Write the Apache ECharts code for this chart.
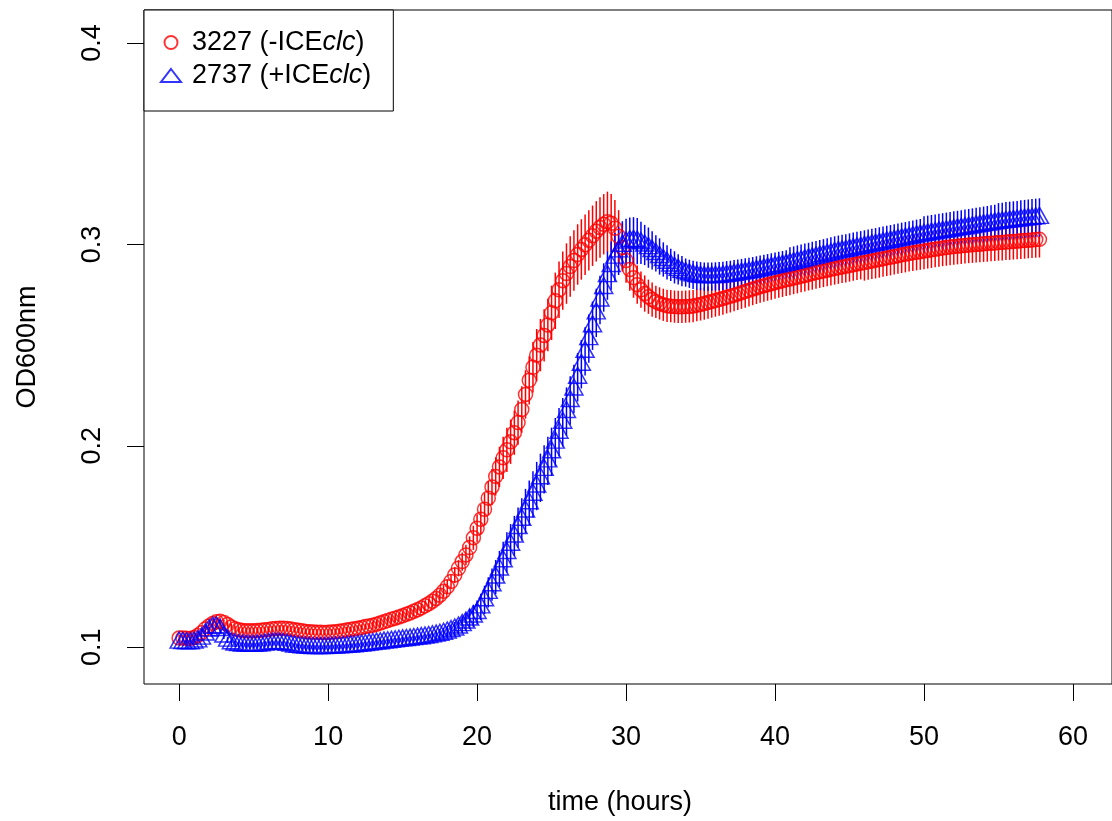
<!DOCTYPE html>
<html>
<head>
<meta charset="utf-8">
<script src="https://cdn.jsdelivr.net/npm/echarts@6/dist/echarts.min.js"></script>
<style>html,body{margin:0;padding:0;background:#fff;}#chart{width:1112px;height:821px;}</style>
</head>
<body>
<div id="chart"></div>
<script>
// time in hours (one reading every 15 minutes)
const timeHours = [
0,0.25,0.5,0.75, 1,1.25,1.5,1.75, 2,2.25,2.5,2.75, 3,3.25,3.5,3.75, 4,4.25,4.5,4.75,
5,5.25,5.5,5.75, 6,6.25,6.5,6.75, 7,7.25,7.5,7.75, 8,8.25,8.5,8.75, 9,9.25,9.5,9.75,
10,10.25,10.5,10.75, 11,11.25,11.5,11.75, 12,12.25,12.5,12.75, 13,13.25,13.5,13.75, 14,14.25,14.5,14.75,
15,15.25,15.5,15.75, 16,16.25,16.5,16.75, 17,17.25,17.5,17.75, 18,18.25,18.5,18.75, 19,19.25,19.5,19.75,
20,20.25,20.5,20.75, 21,21.25,21.5,21.75, 22,22.25,22.5,22.75, 23,23.25,23.5,23.75, 24,24.25,24.5,24.75,
25,25.25,25.5,25.75, 26,26.25,26.5,26.75, 27,27.25,27.5,27.75, 28,28.25,28.5,28.75, 29,29.25,29.5,29.75,
30,30.25,30.5,30.75, 31,31.25,31.5,31.75, 32,32.25,32.5,32.75, 33,33.25,33.5,33.75, 34,34.25,34.5,34.75,
35,35.25,35.5,35.75, 36,36.25,36.5,36.75, 37,37.25,37.5,37.75, 38,38.25,38.5,38.75, 39,39.25,39.5,39.75,
40,40.25,40.5,40.75, 41,41.25,41.5,41.75, 42,42.25,42.5,42.75, 43,43.25,43.5,43.75, 44,44.25,44.5,44.75,
45,45.25,45.5,45.75, 46,46.25,46.5,46.75, 47,47.25,47.5,47.75, 48,48.25,48.5,48.75, 49,49.25,49.5,49.75,
50,50.25,50.5,50.75, 51,51.25,51.5,51.75, 52,52.25,52.5,52.75, 53,53.25,53.5,53.75, 54,54.25,54.5,54.75,
55,55.25,55.5,55.75, 56,56.25,56.5,56.75, 57,57.25,57.5,57.75
];
// strain 3227 (-ICEclc), mean OD600
const od3227 = [
0.1045,0.1045,0.1044,0.1043, 0.1048,0.1058,0.1072,0.1090, 0.1105,0.1118,0.1126,0.1128, 0.1122,0.1112,0.1100,0.1091, 0.1086,0.1083,0.1081,0.1081,
0.1082,0.1083,0.1084,0.1086, 0.1088,0.1091,0.1093,0.1094, 0.1094,0.1093,0.1090,0.1087, 0.1084,0.1081,0.1078,0.1076, 0.1075,0.1074,0.1074,0.1073,
0.1074,0.1075,0.1077,0.1079, 0.1082,0.1085,0.1088,0.1091, 0.1094,0.1098,0.1102,0.1105, 0.1109,0.1114,0.1120,0.1126, 0.1132,0.1138,0.1144,0.1150,
0.1156,0.1163,0.1170,0.1178, 0.1186,0.1195,0.1205,0.1216, 0.1228,0.1242,0.1258,0.1278, 0.1300,0.1326,0.1358,0.1392, 0.1425,0.1458,0.1495,0.1543,
0.1590,0.1635,0.1685,0.1740, 0.1795,0.1848,0.1895,0.1940, 0.1980,0.2020,0.2065,0.2115, 0.2180,0.2255,0.2325,0.2390, 0.2450,0.2500,0.2548,0.2600,
0.2660,0.2720,0.2775,0.2820, 0.2855,0.2890,0.2920,0.2950, 0.2975,0.2998,0.3020,0.3043, 0.3065,0.3084,0.3100,0.3112, 0.3105,0.3080,0.3040,0.2985,
0.2920,0.2875,0.2835,0.2800, 0.2775,0.2756,0.2740,0.2726, 0.2715,0.2707,0.2700,0.2695, 0.2693,0.2691,0.2690,0.2690, 0.2691,0.2692,0.2694,0.2698,
0.2702,0.2706,0.2711,0.2716, 0.2721,0.2726,0.2731,0.2737, 0.2742,0.2748,0.2754,0.2760, 0.2766,0.2772,0.2778,0.2784, 0.2790,0.2795,0.2800,0.2805,
0.2810,0.2815,0.2819,0.2824, 0.2828,0.2833,0.2837,0.2842, 0.2846,0.2851,0.2855,0.2860, 0.2864,0.2868,0.2872,0.2876, 0.2880,0.2884,0.2888,0.2891,
0.2895,0.2899,0.2903,0.2906, 0.2910,0.2914,0.2918,0.2921, 0.2925,0.2929,0.2933,0.2936, 0.2940,0.2944,0.2948,0.2951, 0.2955,0.2958,0.2961,0.2964,
0.2967,0.2970,0.2973,0.2976, 0.2979,0.2982,0.2984,0.2987, 0.2989,0.2991,0.2993,0.2995, 0.2997,0.2998,0.3000,0.3001, 0.3003,0.3004,0.3006,0.3007,
0.3009,0.3010,0.3012,0.3013, 0.3015,0.3016,0.3018,0.3019, 0.3021,0.3022,0.3024,0.3025
];
// error (half bar length) for 3227
const err3227 = [
0.0015,0.0015,0.0015,0.0015, 0.0015,0.0015,0.0015,0.0015, 0.0015,0.0015,0.0015,0.0015, 0.0015,0.0015,0.0015,0.0015, 0.0015,0.0015,0.0015,0.0015,
0.0015,0.0015,0.0015,0.0015, 0.0015,0.0015,0.0015,0.0015, 0.0015,0.0015,0.0015,0.0015, 0.0015,0.0015,0.0015,0.0015, 0.0015,0.0015,0.0015,0.0015,
0.0015,0.0015,0.0015,0.0015, 0.0015,0.0015,0.0015,0.0015, 0.0015,0.0015,0.0015,0.0015, 0.002,0.002,0.002,0.002, 0.002,0.002,0.002,0.002,
0.0025,0.0025,0.0025,0.0025, 0.0025,0.0025,0.0025,0.0025, 0.003,0.003,0.003,0.003, 0.0035,0.0035,0.004,0.004, 0.0045,0.005,0.0055,0.006,
0.007,0.0075,0.008,0.0085, 0.009,0.0095,0.010,0.0105, 0.011,0.011,0.011,0.011, 0.0115,0.012,0.012,0.0125, 0.013,0.013,0.013,0.013,
0.0135,0.014,0.014,0.0145, 0.015,0.015,0.015,0.015, 0.015,0.015,0.015,0.015, 0.015,0.015,0.015,0.015, 0.0145,0.014,0.013,0.012,
0.011,0.0105,0.010,0.0095, 0.009,0.009,0.0085,0.0085, 0.008,0.008,0.008,0.008, 0.008,0.008,0.008,0.008, 0.008,0.008,0.008,0.008,
0.008,0.008,0.008,0.008, 0.008,0.008,0.008,0.008, 0.008,0.008,0.008,0.008, 0.008,0.008,0.008,0.008, 0.008,0.008,0.008,0.008,
0.008,0.008,0.008,0.008, 0.008,0.008,0.008,0.008, 0.008,0.008,0.008,0.008, 0.008,0.008,0.008,0.008, 0.008,0.008,0.008,0.008,
0.008,0.008,0.008,0.008, 0.009,0.009,0.009,0.009, 0.009,0.009,0.009,0.009, 0.009,0.009,0.009,0.009, 0.009,0.009,0.009,0.009,
0.009,0.009,0.009,0.009, 0.009,0.009,0.009,0.009, 0.009,0.009,0.009,0.009, 0.009,0.009,0.009,0.009, 0.009,0.009,0.009,0.009,
0.009,0.009,0.009,0.009, 0.009,0.009,0.009,0.009, 0.009,0.009,0.009,0.009
];
// strain 2737 (+ICEclc), mean OD600
const od2737 = [
0.1025,0.1023,0.1022,0.1022, 0.1025,0.1031,0.1045,0.1065, 0.1085,0.1098,0.1101,0.1088, 0.1055,0.1035,0.1022,0.1016, 0.1013,0.1011,0.1010,0.1009,
0.1009,0.1010,0.1012,0.1015, 0.1018,0.1020,0.1021,0.1020, 0.1018,0.1014,0.1010,0.1006, 0.1004,0.1002,0.1000,0.0999, 0.0998,0.0998,0.0998,0.0998,
0.0999,0.1000,0.1001,0.1002, 0.1003,0.1004,0.1006,0.1007, 0.1009,0.1011,0.1013,0.1016, 0.1018,0.1020,0.1022,0.1025, 0.1027,0.1029,0.1031,0.1034,
0.1036,0.1038,0.1040,0.1043, 0.1045,0.1047,0.1050,0.1053, 0.1056,0.1060,0.1064,0.1069, 0.1075,0.1082,0.1090,0.1100, 0.1112,0.1125,0.1140,0.1155,
0.1172,0.1200,0.1235,0.1272, 0.1310,0.1348,0.1388,0.1429, 0.1470,0.1511,0.1552,0.1594, 0.1635,0.1676,0.1717,0.1759, 0.1800,0.1841,0.1883,0.1925,
0.1970,0.2018,0.2067,0.2117, 0.2170,0.2225,0.2282,0.2340, 0.2405,0.2469,0.2532,0.2596, 0.2660,0.2724,0.2786,0.2845, 0.2895,0.2937,0.2968,0.2995,
0.3012,0.3019,0.3020,0.3016, 0.3008,0.2997,0.2984,0.2970, 0.2955,0.2940,0.2925,0.2911, 0.2898,0.2886,0.2876,0.2867, 0.2860,0.2854,0.2849,0.2845,
0.2842,0.2840,0.2840,0.2840, 0.2841,0.2842,0.2844,0.2847, 0.2849,0.2852,0.2855,0.2858, 0.2861,0.2864,0.2867,0.2871, 0.2875,0.2879,0.2882,0.2886,
0.2890,0.2894,0.2897,0.2901, 0.2906,0.2910,0.2915,0.2919, 0.2924,0.2928,0.2933,0.2937, 0.2942,0.2946,0.2951,0.2955, 0.2960,0.2964,0.2968,0.2971,
0.2975,0.2979,0.2983,0.2986, 0.2990,0.2994,0.2998,0.3001, 0.3005,0.3009,0.3013,0.3016, 0.3020,0.3024,0.3028,0.3031, 0.3035,0.3039,0.3043,0.3046,
0.3050,0.3053,0.3056,0.3059, 0.3062,0.3065,0.3068,0.3071, 0.3074,0.3077,0.3080,0.3083, 0.3086,0.3089,0.3092,0.3095, 0.3098,0.3101,0.3104,0.3107,
0.3110,0.3112,0.3115,0.3117, 0.3119,0.3121,0.3124,0.3126, 0.3128,0.3130,0.3132,0.3134
];
// error (half bar length) for 2737
const err2737 = [
0.0015,0.0015,0.0015,0.0015, 0.0015,0.0015,0.0015,0.0015, 0.0015,0.0015,0.0015,0.0015, 0.0015,0.0015,0.0015,0.0015, 0.0015,0.0015,0.0015,0.0015,
0.0015,0.0015,0.0015,0.0015, 0.0015,0.0015,0.0015,0.0015, 0.0015,0.0015,0.0015,0.0015, 0.0015,0.0015,0.0015,0.0015, 0.0015,0.0015,0.0015,0.0015,
0.0015,0.0015,0.0015,0.0015, 0.0015,0.0015,0.0015,0.0015, 0.0015,0.0015,0.0015,0.0015, 0.0015,0.0015,0.0015,0.0015, 0.0015,0.0015,0.0015,0.0015,
0.0015,0.0015,0.0015,0.0015, 0.0015,0.0015,0.0015,0.0015, 0.002,0.002,0.0025,0.0025, 0.003,0.003,0.0035,0.0035, 0.004,0.0045,0.005,0.0055,
0.006,0.0065,0.007,0.0075, 0.008,0.0085,0.009,0.0095, 0.010,0.010,0.010,0.010, 0.0105,0.011,0.011,0.0115, 0.012,0.012,0.012,0.012,
0.012,0.012,0.012,0.012, 0.012,0.012,0.012,0.012, 0.012,0.012,0.012,0.012, 0.012,0.012,0.012,0.012, 0.012,0.012,0.012,0.012,
0.0115,0.0115,0.0115,0.0115, 0.0105,0.010,0.010,0.0095, 0.009,0.009,0.0085,0.0085, 0.008,0.008,0.0075,0.0075, 0.007,0.007,0.007,0.007,
0.007,0.007,0.007,0.007, 0.007,0.007,0.007,0.007, 0.007,0.007,0.007,0.007, 0.007,0.007,0.007,0.007, 0.007,0.007,0.007,0.007,
0.007,0.007,0.007,0.007, 0.008,0.008,0.008,0.008, 0.008,0.008,0.008,0.008, 0.008,0.008,0.008,0.008, 0.008,0.008,0.008,0.008,
0.008,0.008,0.008,0.008, 0.008,0.008,0.008,0.008, 0.008,0.008,0.008,0.008, 0.008,0.008,0.008,0.008, 0.008,0.008,0.008,0.008,
0.009,0.009,0.009,0.009, 0.009,0.009,0.009,0.009, 0.009,0.009,0.009,0.009, 0.009,0.009,0.009,0.009, 0.009,0.009,0.009,0.009,
0.0095,0.0095,0.0095,0.0095, 0.0095,0.0095,0.0095,0.0095, 0.0095,0.0095,0.0095,0.0095
];
const seriesNames = ['3227 (-ICEclc)', '2737 (+ICEclc)'];
const xTicks = [0, 10, 20, 30, 40, 50, 60];
const yTicks = [0.1, 0.2, 0.3, 0.4];

const FONT = "'Liberation Sans', Arial, Helvetica, sans-serif";
const RED = '#ff0000', BLUE = '#0000ff';

function pts(vals) { return timeHours.map((t, i) => [t, vals[i]]); }
function errData(vals, errs) { return timeHours.map((t, i) => [t, vals[i], errs[i]]); }
function errRender(color) {
  return function (params, api) {
    const x = api.value(0), y = api.value(1), e = api.value(2);
    const p1 = api.coord([x, y - e]);
    const p2 = api.coord([x, y + e]);
    return { type: 'line', shape: { x1: p1[0], y1: p1[1], x2: p2[0], y2: p2[1] },
             style: { stroke: color, lineWidth: 1.5 } };
  };
}

const chart = echarts.init(document.getElementById('chart'), null, { renderer: 'canvas' });
const option = {
  animation: false,
  backgroundColor: '#ffffff',
  grid: { left: 144, top: 10, right: -8, bottom: 136, show: true, borderColor: '#000', borderWidth: 1,
          backgroundColor: 'rgba(0,0,0,0)', containLabel: false },
  legend: {
    left: 144, top: 10, orient: 'vertical', selectedMode: false,
    padding: [16, 22, 19, 16], itemGap: 0, itemWidth: 20, itemHeight: 13,
    borderColor: '#000', borderWidth: 1, borderRadius: 0, backgroundColor: '#fff',
    data: [{ name: seriesNames[0], icon: 'circle' }, { name: seriesNames[1], icon: 'triangle' }],
    formatter: function (name) {
      const head = name.slice(0, name.length - 4);
      return '{p| }{n|' + head + '}{i|clc}{n|)}';
    },
    textStyle: {
      fontSize: 27, color: '#000', fontFamily: FONT, lineHeight: 33,
      rich: {
        p: { width: 6, fontSize: 27, lineHeight: 33 },
        n: { fontSize: 27, color: '#000', fontFamily: FONT, lineHeight: 33 },
        i: { fontSize: 27, color: '#000', fontFamily: FONT, fontStyle: 'italic', lineHeight: 33 }
      }
    }
  },
  xAxis: {
    type: 'value', min: -2.36, max: 62.62,
    name: 'time (hours)', nameLocation: 'middle', nameGap: 105,
    nameTextStyle: { fontSize: 27, color: '#000', fontFamily: FONT, padding: [0, 16, 0, 0] },
    axisLine: { show: false, onZero: false },
    splitLine: { show: false },
    axisTick: { show: true, inside: false, length: 17, lineStyle: { color: '#000', width: 1 }, customValues: xTicks },
    axisLabel: { customValues: xTicks, fontSize: 27, color: '#000', fontFamily: FONT, margin: 40 }
  },
  yAxis: {
    type: 'value', min: 0.0817, max: 0.4164,
    name: 'OD600nm', nameLocation: 'middle', nameGap: 103, nameRotate: 90,
    nameTextStyle: { fontSize: 27, color: '#000', fontFamily: FONT },
    axisLine: { show: false, onZero: false },
    splitLine: { show: false },
    axisTick: { show: true, inside: false, length: 17, lineStyle: { color: '#000', width: 1 }, customValues: yTicks },
    axisLabel: { customValues: yTicks, rotate: 90, fontSize: 27, color: '#000', fontFamily: FONT, margin: 38,
                 formatter: function (v) { return v.toFixed(1); } }
  },
  series: [
    { type: 'scatter', name: seriesNames[0], data: pts(od3227), symbol: 'circle', symbolSize: 14,
      itemStyle: { color: 'rgba(0,0,0,0)', borderColor: RED, borderWidth: 1.5 }, silent: true },
    { type: 'scatter', name: seriesNames[1], data: pts(od2737), symbol: 'triangle', symbolSize: [18, 16],
      symbolOffset: [0, -2],
      itemStyle: { color: 'rgba(0,0,0,0)', borderColor: BLUE, borderWidth: 1.5 }, silent: true },
    { type: 'custom', name: 'err3227', data: errData(od3227, err3227), renderItem: errRender(RED),
      encode: { x: 0, y: 1 }, silent: true },
    { type: 'custom', name: 'err2737', data: errData(od2737, err2737), renderItem: errRender(BLUE),
      encode: { x: 0, y: 1 }, silent: true }
  ]
};
chart.setOption(option);
</script>
</body>
</html>
